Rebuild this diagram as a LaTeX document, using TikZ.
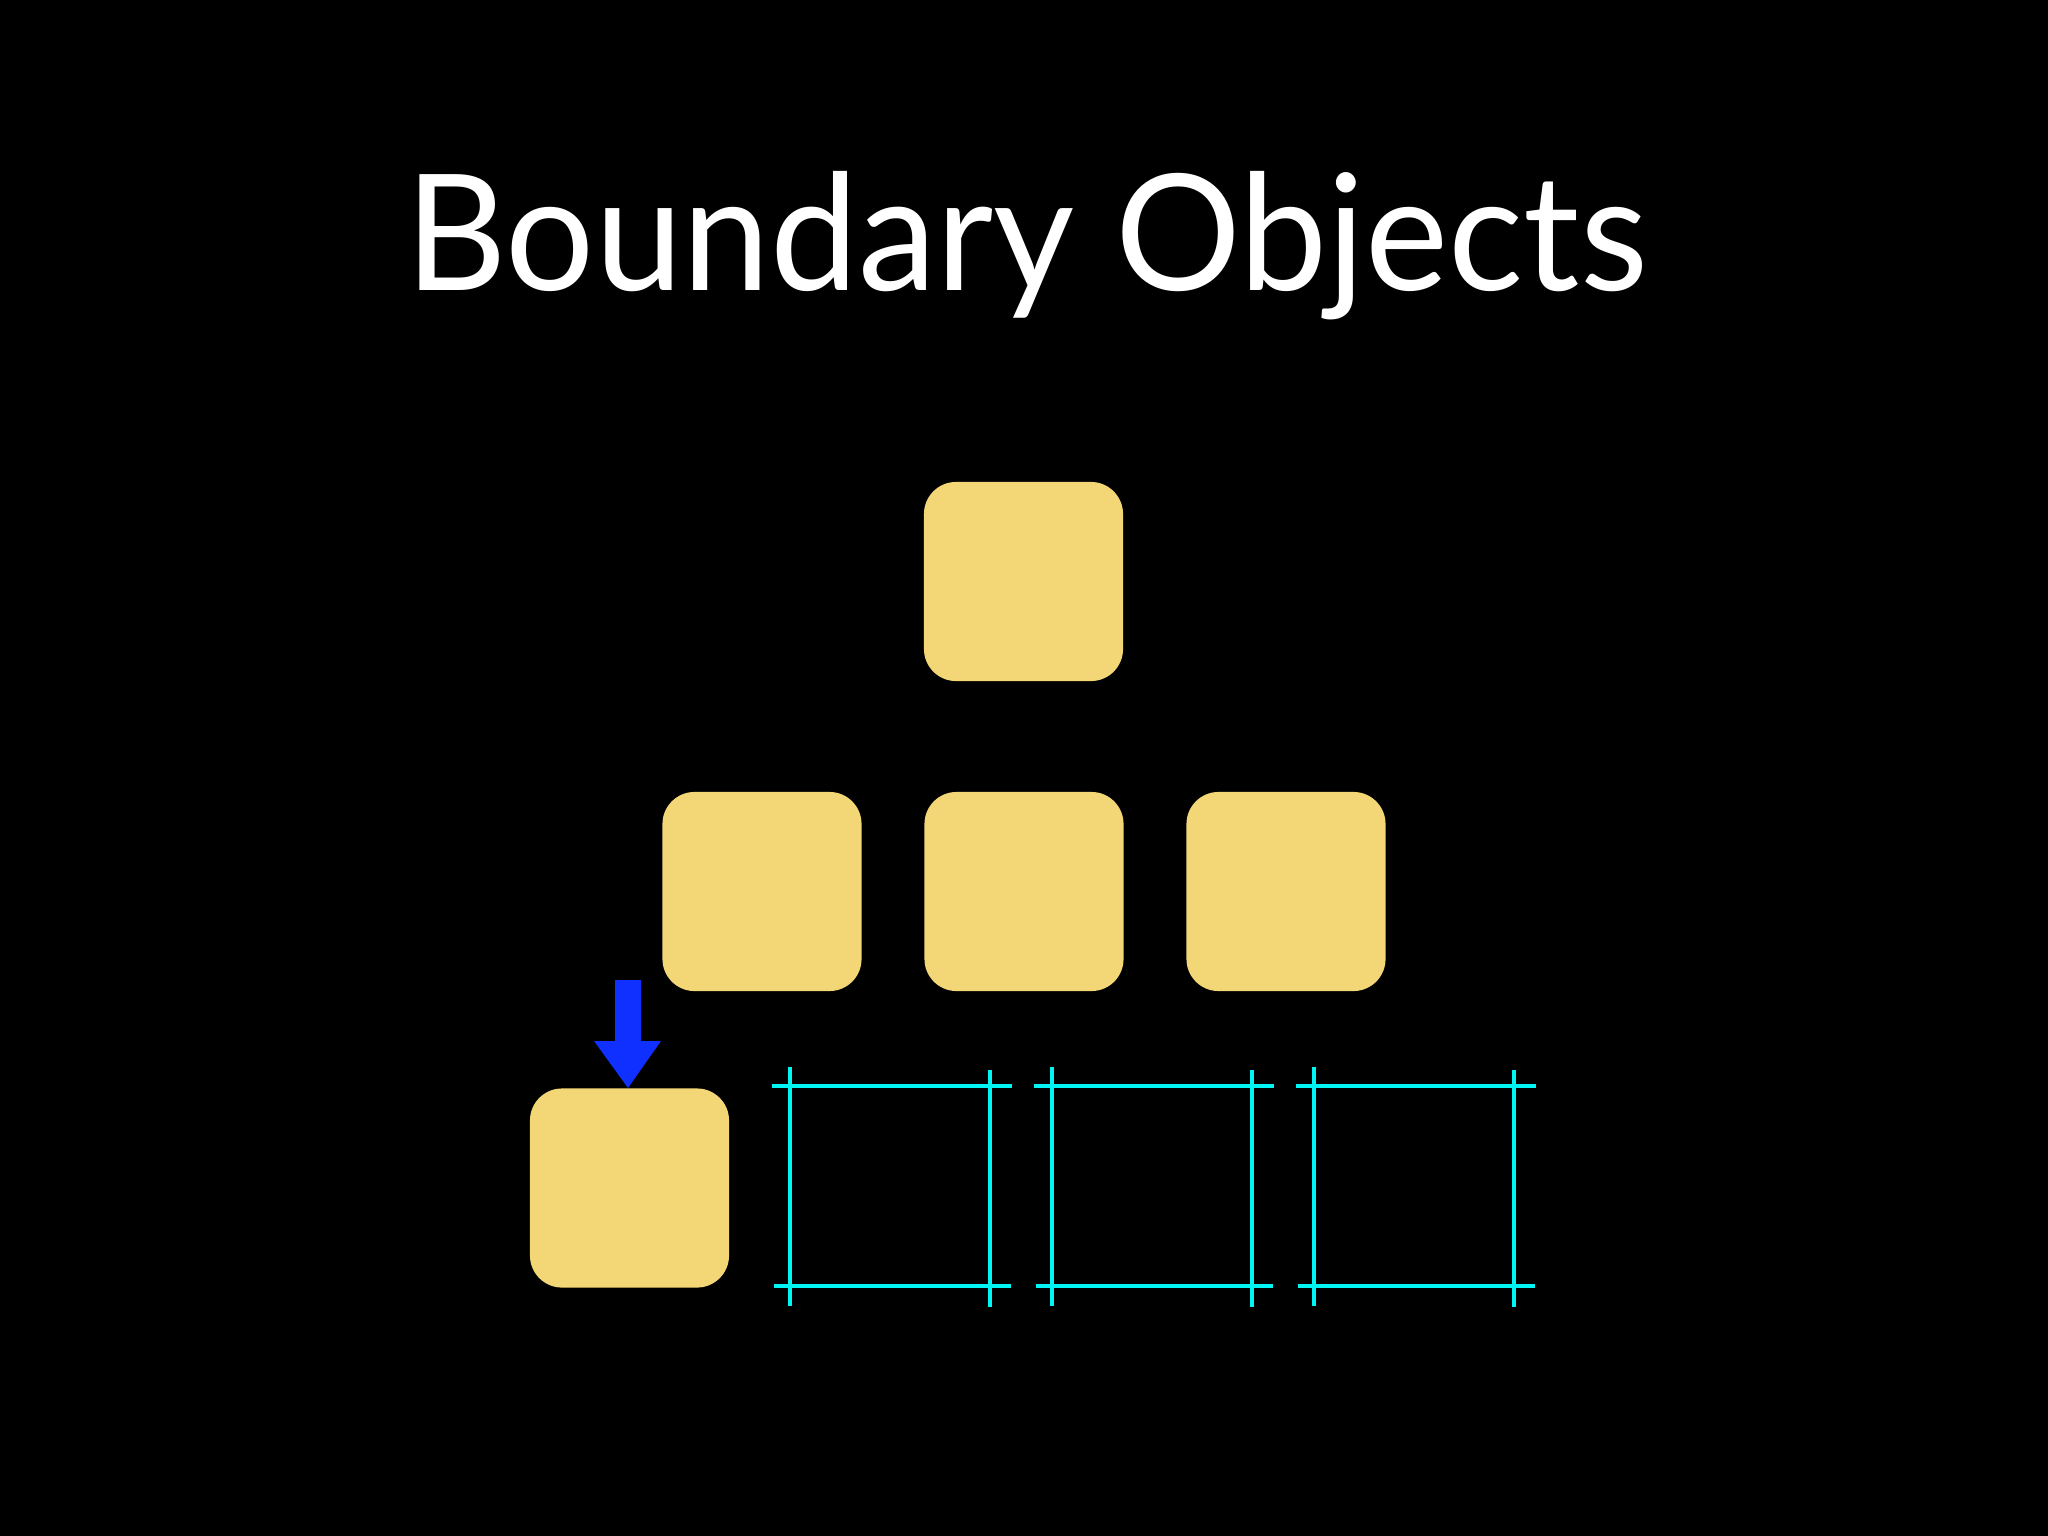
\documentclass[tikz,border=0pt]{standalone}
\usepackage{fontspec}
\setmainfont{Lato}
\definecolor{stickyyellow}{RGB}{243,215,118}
\definecolor{linecyan}{RGB}{0,245,245}
\definecolor{arrowblue}{RGB}{16,48,255}
\tikzset{
  sticky/.style={fill=stickyyellow, draw=none, rounded corners=0.32cm, minimum width=1.99cm, minimum height=1.99cm, inner sep=0pt, outer sep=0pt},
  frameline/.style={draw=linecyan, line width=0.042cm},
  titletext/.style={text=white, inner sep=0pt, font=\fontsize{46}{55}\selectfont}
}
\begin{document}
\begin{tikzpicture}[x=0.01cm,y=-0.01cm]
\fill[black] (0,0) rectangle (2048,1536);
\useasboundingbox (0,0) rectangle (2048,1536);
\node[titletext, anchor=base] (title) at (1026.5,290) {\scalebox{0.972}[1]{Boundary Objects}};
\node[sticky] (top) at (1023.5,581.5) {};
\node[sticky] (m1) at (762,891.5) {};
\node[sticky] (m2) at (1024,891.5) {};
\node[sticky] (m3) at (1286,891.5) {};
\node[sticky] (b0) at (629.5,1188) {};
\fill[arrowblue] (615,980) -- (641,980) -- (641,1041) -- (661,1041) -- (628,1088) -- (594,1041) -- (615,1041) -- cycle;
\foreach \i in {0,1,2}{
  \pgfmathsetmacro{\L}{790+262*\i}
  \pgfmathsetmacro{\R}{\L+200}
  \draw[frameline] (\L-18,1086) -- (\R+22,1086);
  \draw[frameline] (\L-16,1286) -- (\R+21,1286);
  \draw[frameline] (\L,1067) -- (\L,1306);
  \draw[frameline] (\R,1070) -- (\R,1307);
}
\end{tikzpicture}
\end{document}
